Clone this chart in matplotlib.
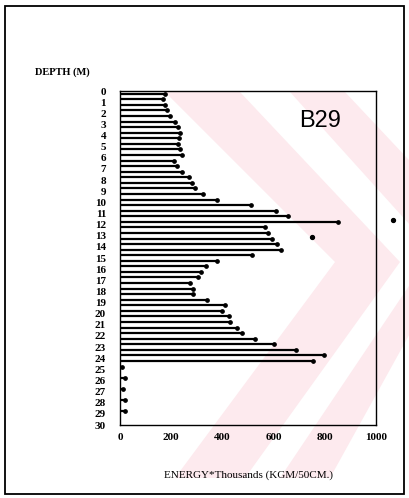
import matplotlib
matplotlib.use('Agg')
import matplotlib.pyplot as plt
from matplotlib.patches import Polygon, Rectangle

# ==[0] Data (energy per 50 cm interval, thousands)
depth_mid = [0.25, 0.75, 1.25, 1.75, 2.25, 2.75, 3.25, 3.75, 4.25, 4.75,
             5.25, 5.75, 6.25, 6.75, 7.25, 7.75, 8.25, 8.75, 9.25, 9.75,
             10.25, 10.75, 11.25, 11.75, 12.25, 12.75, 13.25, 13.75, 14.25, 14.75,
             15.25, 15.75, 16.25, 16.75, 17.25, 17.75, 18.25, 18.75, 19.25, 19.75,
             20.25, 20.75, 21.25, 21.75, 22.25, 22.75, 23.25, 23.75, 24.25, 24.75,
             25.25, 25.75, 26.25, 26.75, 27.25, 27.75, 28.25, 28.75, 29.25, 29.75]
energy = [176, 167, 176, 184, 196, 216, 227, 235, 231, 227,
          235, 243, 212, 224, 243, 268, 280, 294, 325, 380,
          510, 608, 655, 850, 567, 578, 595, 614, 627, 516,
          380, 335, 318, 303, 275, 287, 285, 340, 412, 399,
          425, 431, 457, 475, 529, 601, 686, 797, 752, 8,
          0, 20, 0, 12, 0, 18, 0, 20, 0, 0]

# isolated points (one beyond the axis)
extra_energy = [1065, 749]
extra_depth = [11.63, 13.12]

ytick_vals = list(range(0, 31))
xtick_vals = [0, 200, 400, 600, 800, 1000]
xtick_labels = ['0', '200', '400', '600', '800', '1000']

W, H = 409, 498


def px(x, y):
    return (x / W, 1 - y / H)


fig = plt.figure(figsize=(W / 100, H / 100), dpi=100)

# ==[1] faint pink watermark behind the chart (scan artefact)
pink = '#fdeaee'
bands = [
    [(165, 92), (240, 92), (400, 262), (245, 478), (175, 478), (335, 262)],
    [(290, 92), (345, 92), (470, 225), (330, 478), (280, 478), (425, 262), (410, 225)],
]
for b in bands:
    fig.patches.append(Polygon([px(*p) for p in b], closed=True, transform=fig.transFigure,
                               facecolor=pink, edgecolor='none', zorder=-5))

# page border
fig.patches.append(Rectangle(px(5, 494), 399 / W, 488 / H, transform=fig.transFigure,
                             fill=False, edgecolor='black', linewidth=1.3, zorder=5))

# ==[2] the chart
ax = fig.add_axes([120 / W, 1 - 425 / H, 256 / W, 334 / H])
ax.patch.set_alpha(0)

ax.hlines(depth_mid, 0, energy, color='black', linewidth=1.6)
vals = [(d, e) for d, e in zip(depth_mid, energy) if e > 0]
ax.plot([e for d, e in vals], [d for d, e in vals], 'o', color='black', markersize=2.4)
ax.plot(extra_energy, extra_depth, 'o', color='black', markersize=2.8, clip_on=False)

ax.set_xlim(0, 1000)
ax.set_ylim(30, 0)

tfont = dict(family='Liberation Serif', weight='bold', size=8)
ax.set_yticks(ytick_vals)
ax.set_yticklabels([str(v) for v in ytick_vals], **tfont)
ax.set_xticks(xtick_vals)
ax.set_xticklabels(xtick_labels, **tfont)
ax.tick_params(axis='y', length=0, pad=10)
ax.tick_params(axis='x', length=0, pad=6)

for s in ax.spines.values():
    s.set_linewidth(1.0)

ax.set_xlabel('ENERGY*Thousands (KGM/50CM.)', family='Liberation Serif', size=8, labelpad=20)

fig.text(35 / W, 1 - 72 / H, 'DEPTH (M)', family='Liberation Serif', weight='bold', size=7.5,
         va='center', ha='left')
fig.text(320 / W, 1 - 121 / H, 'B29', family='Liberation Sans', size=17, ha='center', va='center')

fig.savefig('out.png', dpi=100)
